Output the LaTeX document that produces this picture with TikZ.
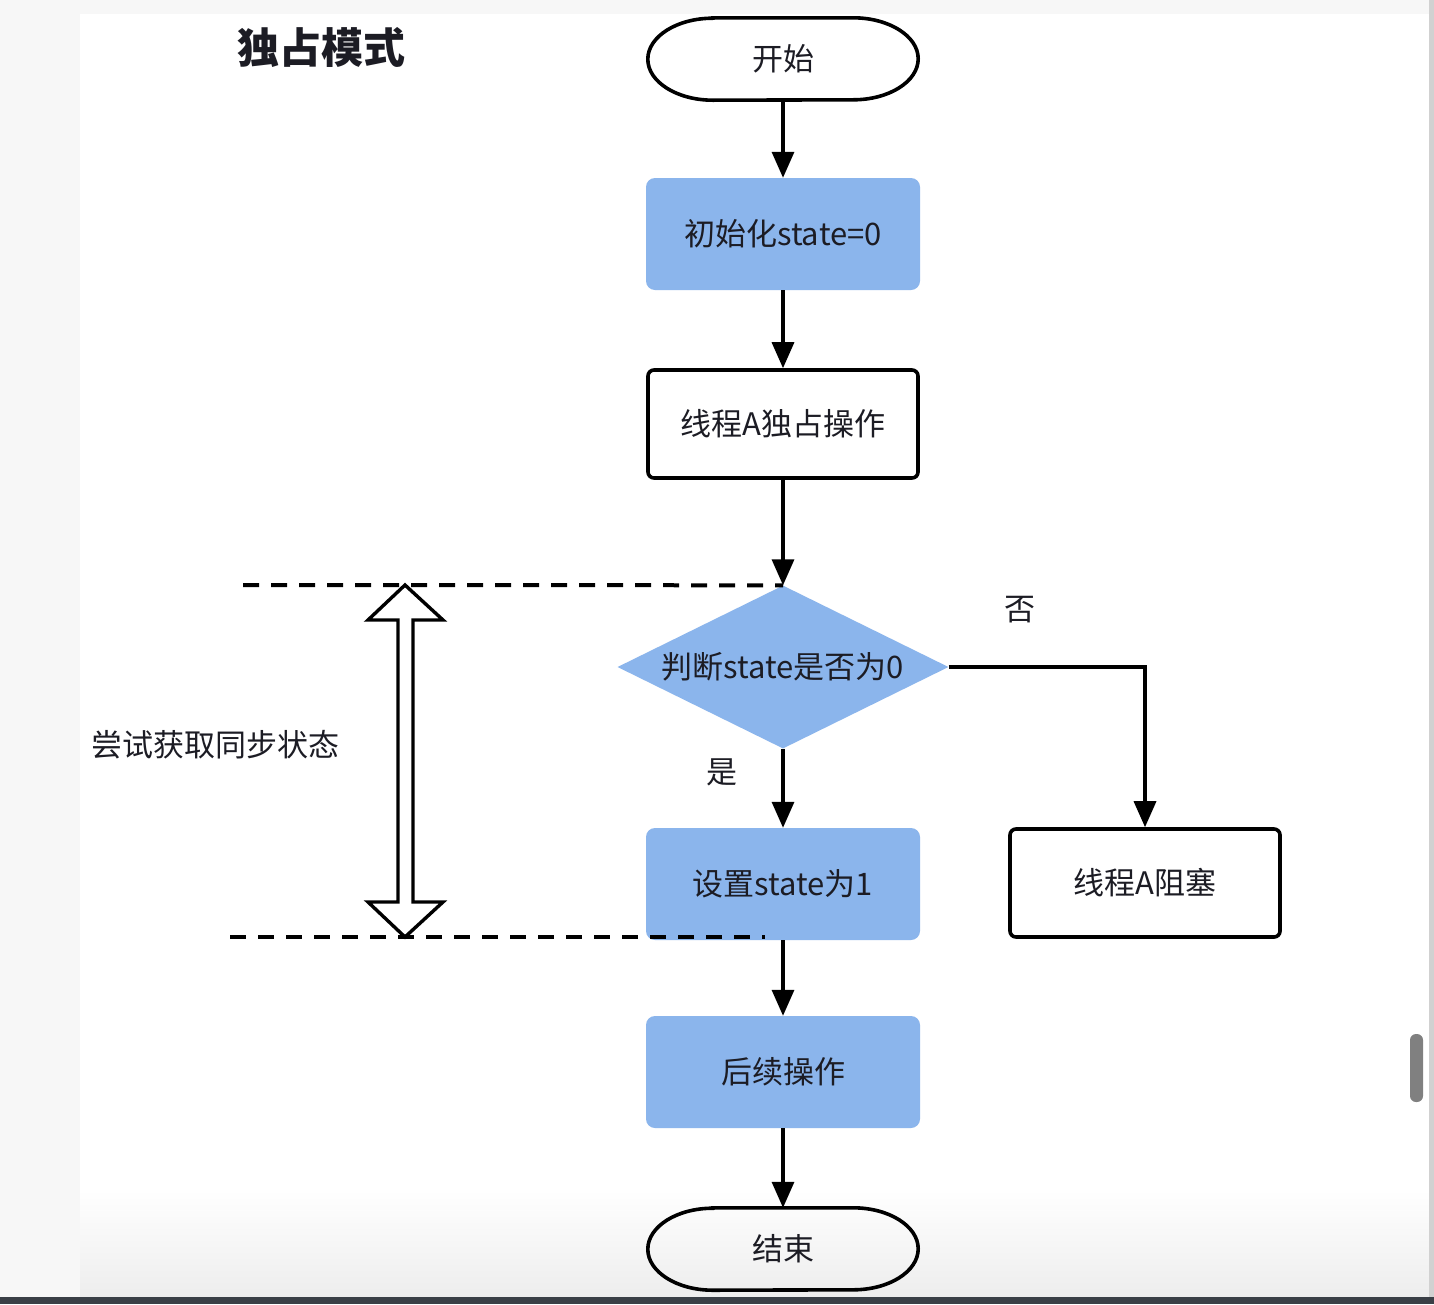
\documentclass[tikz,border=0pt]{standalone}
\usepackage{fontspec}
\setmainfont{Noto Sans CJK SC}
\usetikzlibrary{arrows.meta,shapes.geometric}
\definecolor{boxblue}{HTML}{8BB5EC}
\definecolor{txt}{HTML}{1C1C24}
\definecolor{barcol}{HTML}{3A3F46}
\begin{document}
\begin{tikzpicture}[x=1pt,y=-1pt,
  every node/.style={font=\fontsize{31}{36}\selectfont, text=txt},
  bluebox/.style={rectangle, fill=boxblue, rounded corners=9pt, minimum width=274pt, minimum height=112pt, inner sep=0pt},
  whitebox/.style={rectangle, draw=black, line width=3.6pt, fill=white, rounded corners=6pt, minimum width=270pt, minimum height=108pt, inner sep=0pt},
  term/.style={rectangle, minimum width=270pt, minimum height=82pt, inner sep=0pt},
  termline/.style={line width=3.6pt},
  flow/.style={line width=3.4pt, -{Triangle[length=26pt,width=22pt]}},
  guide/.style={line width=4pt, dash pattern=on 16pt off 12pt},
  hollow/.style={line width=3.4pt, fill=white, line join=miter},
  lbl/.style={inner sep=0pt}
]
\useasboundingbox (0,0) rectangle (1434,1304);
% window background
\fill[black!3] (0,0) rectangle (1434,1304);
\fill[white] (80,14) rectangle (1429,1297);
\shade[top color=white, bottom color=black!7] (80,1190) rectangle (1429,1297);
\fill[black!18] (1429,0) rectangle (1434,1297);
\fill[black!50, rounded corners=6pt] (1410,1034) rectangle (1423,1102);
\fill[barcol] (0,1297) rectangle (1434,1304);

% nodes
\node[term] (start) at (783,59) {开始};
\node[bluebox] (init) at (783,234) {初始化state=0};
\node[whitebox] (opA) at (783,424) {线程A独占操作};
\node[diamond, aspect=2, fill=boxblue, minimum width=331pt, minimum height=163pt, inner sep=0pt] (dec) at (783,667) {判断state是否为0};
\node[bluebox] (set1) at (783,884) {设置state为1};
\node[bluebox] (next) at (783,1072) {后续操作};
\node[term] (end) at (783,1249) {结束};
\node[whitebox] (block) at (1145,883) {线程A阻塞};

\node[lbl] (no) at (1020,610) {否};
\node[lbl] (yes) at (722,772) {是};
\node[lbl, font=\fontsize{42}{48}\selectfont\bfseries] (title) at (321,47) {独占模式};
\node[lbl] (try) at (215,745) {尝试获取同步状态};

% terminator outlines
\draw[termline] ([xshift=65pt]start.north west) -- ([xshift=-65pt]start.north east)
  arc[start angle=-90,end angle=90,x radius=65,y radius=41]
  -- ([xshift=65pt]start.south west)
  arc[start angle=90,end angle=270,x radius=65,y radius=41] -- cycle;
\draw[termline] ([xshift=65pt]end.north west) -- ([xshift=-65pt]end.north east)
  arc[start angle=-90,end angle=90,x radius=65,y radius=41]
  -- ([xshift=65pt]end.south west)
  arc[start angle=90,end angle=270,x radius=65,y radius=41] -- cycle;

% connectors
\draw[flow] (start) -- (init);
\draw[flow] (init) -- (opA);
\draw[flow] (opA) -- (dec);
\draw[flow] (dec) -- (set1);
\draw[flow] (dec.east) -| (block.north);
\draw[flow] (set1) -- (next);
\draw[flow] (next) -- (end);

% guide lines
\coordinate (g1) at (243,585);
\coordinate (g2) at (230,937);
\coordinate (g2e) at (765,937);
\draw[guide] (g1) -- (dec.north);
\draw[guide] (g2) -- (g2e);

% hollow double arrow
\draw[hollow] (405,585) -- (443,620) -- (413,620) -- (413,902) -- (443,902) -- (405,937)
  -- (368,902) -- (398,902) -- (398,620) -- (368,620) -- cycle;
\end{tikzpicture}
\end{document}
